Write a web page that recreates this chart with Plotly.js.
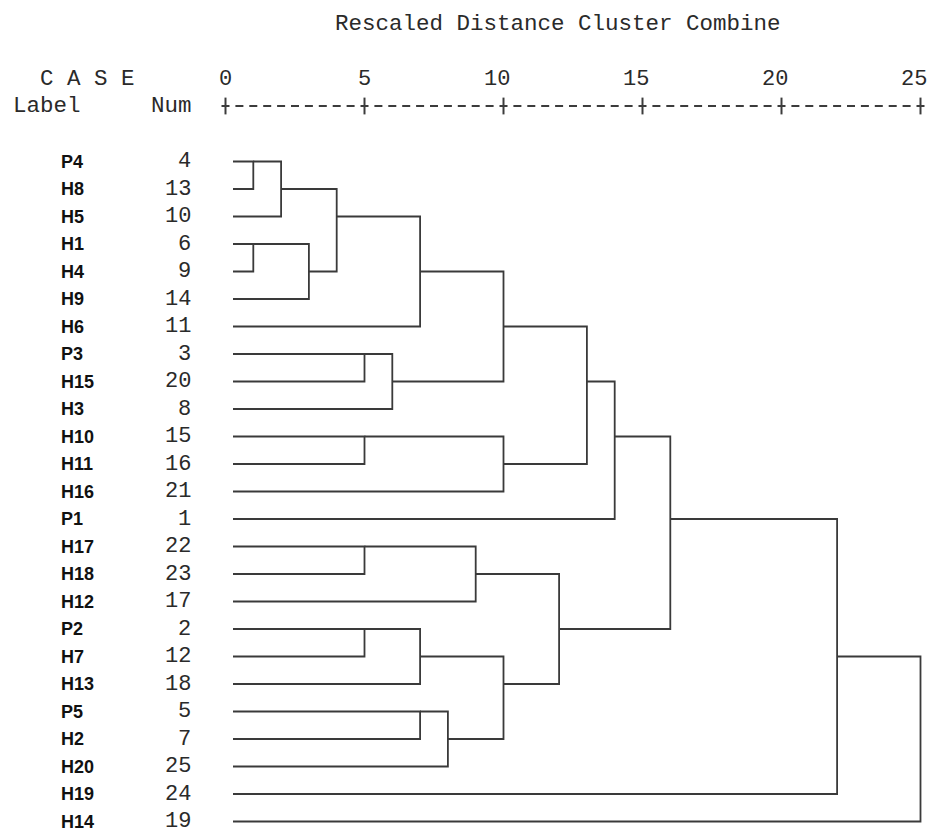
<!DOCTYPE html>
<html>
<head>
<meta charset="utf-8">
<script src="https://cdn.plot.ly/plotly-3.0.1.min.js"></script>
<style>html,body{margin:0;padding:0;background:#fff;}#chart{width:930px;height:830px;}</style>
</head>
<body>
<div id="chart"></div>
<script>
// ---- data ----
const leafLabels = ['P4','H8','H5','H1','H4','H9','H6','P3','H15','H3','H10','H11','H16','P1','H17','H18','H12','P2','H7','H13','P5','H2','H20','H19','H14'];
const leafNums   = [4,13,10,6,9,14,11,3,20,8,15,16,21,1,22,23,17,2,12,18,5,7,25,24,19];
// merges: node ids 0..24 are leaves (in row order), 25+k is the cluster made by merge k
const mergeA      = [0,25,3,27,26,29,7,31,30,10,34,33,36,14,38,17,40,20,42,41,39,37,46,47];
const mergeB      = [1,2,4,5,28,6,8,9,32,11,12,35,13,15,16,18,19,21,22,43,44,45,23,24];
const mergeHeight = [1,2,1,3,4,7,5,6,10,5,10,13,14,5,9,5,7,7,8,10,12,16,22,25];
const tickValues  = [0,5,10,15,20,25];
const tickLabels  = ['0','5','10','15','20','25'];
const titleText   = 'Rescaled Distance Cluster Combine';

// ---- layout constants (pixels) ----
const W = 930, H = 830;
const X0PX = 225.5, UNIT = 27.8;   // pixel of distance 0, pixels per unit
const ROW0 = 161.5, ROWH = 27.5;   // pixel of first row, pixels per row
const xd = px => (px - X0PX) / UNIT;
const yd = py => (py - ROW0) / ROWH;
const AXIS_PY = 106;
const LEAF_START = xd(233);
const LINE_COLOR = '#3a3a3a';
const MONO = 'Liberation Mono, Courier New, monospace';
const SANS = 'Liberation Sans, Arial, sans-serif';
const TEXT_COLOR = '#2a2a2a';

// ---- build dendrogram path ----
const pos = [], xpos = [];
leafLabels.forEach((_, i) => { pos[i] = i; xpos[i] = LEAF_START; });
const lx = [], ly = [];
mergeA.forEach((a, k) => {
  const b = mergeB[k], h = mergeHeight[k];
  lx.push(xpos[a], h, h, xpos[b], null);
  ly.push(pos[a], pos[a], pos[b], pos[b], null);
  const id = leafLabels.length + k;
  pos[id] = Math.floor((pos[a] + pos[b]) / 2);
  xpos[id] = h;
});

const traces = [];
traces.push({
  type: 'scatter', mode: 'lines', x: lx, y: ly,
  line: {color: LINE_COLOR, width: 1.8, shape: 'linear'},
  hoverinfo: 'skip', showlegend: false
});
// dashed scale line "+---------+..."
const axY = yd(AXIS_PY);
const half = 4 / UNIT;
traces.push({
  type: 'scatter', mode: 'lines',
  x: [tickValues[0] - half, tickValues[tickValues.length - 1] + half],
  y: [axY, axY],
  line: {color: '#3c3c3c', width: 2, dash: '8px,5.9px'},
  hoverinfo: 'skip', showlegend: false, cliponaxis: false
});
traces.push({
  type: 'scatter', mode: 'markers',
  x: tickValues, y: tickValues.map(() => axY),
  marker: {symbol: 'line-ns', size: 12, line: {color: '#3c3c3c', width: 2}},
  hoverinfo: 'skip', showlegend: false, cliponaxis: false
});

// ---- annotations ----
const ann = [];
// scale labels: last character sits over its tick, as in the fixed-width original
tickValues.forEach((v, i) => {
  ann.push({x: v, y: yd(79), xref: 'x', yref: 'y', text: tickLabels[i], showarrow: false,
    xanchor: 'right', yanchor: 'middle', xshift: 7.5, borderpad: 0,
    font: {family: MONO, size: 22, color: TEXT_COLOR}});
});
leafLabels.forEach((lab, i) => {
  ann.push({x: xd(59), y: i, xref: 'x', yref: 'y', text: lab, showarrow: false,
    xanchor: 'left', yanchor: 'middle', font: {family: SANS, size: 18, color: '#111', weight: 'bold'}});
  ann.push({x: xd(193), y: i, xref: 'x', yref: 'y', text: String(leafNums[i]), showarrow: false,
    xanchor: 'right', yanchor: 'middle', font: {family: MONO, size: 22, color: TEXT_COLOR}});
});
ann.push({x: xd(557.5), y: yd(24), xref: 'x', yref: 'y', text: titleText, showarrow: false,
  xanchor: 'center', yanchor: 'middle', font: {family: MONO, size: 22.5, color: TEXT_COLOR}});
ann.push({x: xd(38), y: yd(78.5), xref: 'x', yref: 'y', text: 'C A S E', showarrow: false,
  xanchor: 'left', yanchor: 'middle', font: {family: MONO, size: 22.5, color: TEXT_COLOR}});
ann.push({x: xd(11), y: yd(AXIS_PY), xref: 'x', yref: 'y', text: 'Label', showarrow: false,
  xanchor: 'left', yanchor: 'middle', font: {family: MONO, size: 22.5, color: TEXT_COLOR}});
ann.push({x: xd(194), y: yd(AXIS_PY), xref: 'x', yref: 'y', text: 'Num', showarrow: false,
  xanchor: 'right', yanchor: 'middle', font: {family: MONO, size: 22.5, color: TEXT_COLOR}});

const layout = {
  width: W, height: H,
  margin: {l: 0, r: 0, t: 0, b: 0, pad: 0},
  paper_bgcolor: '#fff', plot_bgcolor: '#fff',
  showlegend: false,
  xaxis: {
    range: [xd(0), xd(W)], showticklabels: false, ticks: '',
    showgrid: false, zeroline: false, showline: false, fixedrange: true, automargin: false
  },
  yaxis: {
    range: [yd(H), yd(0)], visible: false, showgrid: false, zeroline: false, fixedrange: true
  },
  annotations: ann
};
Plotly.newPlot('chart', traces, layout, {staticPlot: true, displayModeBar: false});
</script>
</body>
</html>
